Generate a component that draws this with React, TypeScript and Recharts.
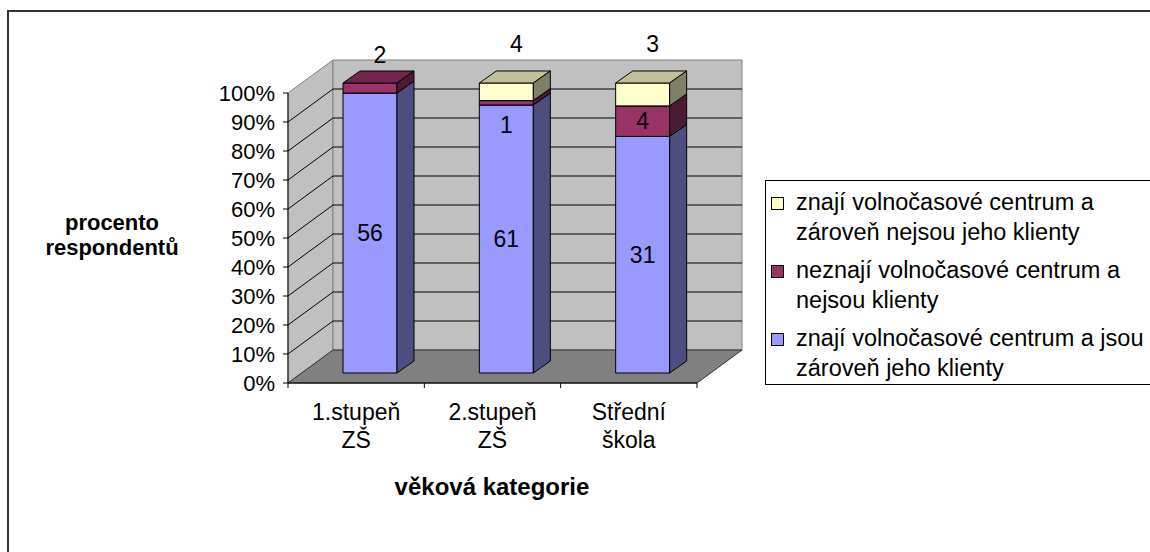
import React from "react";
import {
  BarChart,
  Bar,
  XAxis,
  YAxis,
  LabelList,
  Customized
} from "recharts";

// data
const categories = ["1.stupeň ZŠ", "2.stupeň ZŠ", "Střední škola"];
const klientiValues = [56, 61, 31];
const neznajiValues = [2, 1, 4];
const neklientiValues = [0, 4, 3];
const yTicks = [0, 0.1, 0.2, 0.3, 0.4, 0.5, 0.6, 0.7, 0.8, 0.9, 1];

const seriesNames = {
  klienti: "znají volnočasové centrum a jsou zároveň jeho klienty",
  neznaji: "neznají volnočasové centrum a nejsou klienty",
  neklienti: "znají volnočasové centrum a zároveň nejsou jeho klienty"
};
const legendLines: Record<string, string[]> = {
  neklienti: ["znají volnočasové centrum a", "zároveň nejsou jeho klienty"],
  neznaji: ["neznají volnočasové centrum a", "nejsou klienty"],
  klienti: ["znají volnočasové centrum a jsou", "zároveň jeho klienty"]
};

const data = categories.map((name, i) => ({
  name,
  klienti: klientiValues[i],
  neznaji: neznajiValues[i],
  neklienti: neklientiValues[i]
}));

const FONT = "'Liberation Sans', Arial, sans-serif";

const COLORS = {
  klienti: { front: "#9999FF", top: "#7373BF", side: "#4D4D80" },
  neznaji: { front: "#993366", top: "#73264D", side: "#4D1A33" },
  neklienti: { front: "#FFFFCC", top: "#BFBF99", side: "#808066" }
};

// layout of the front plane of the plot
const W = 1150;
const H = 552;
const PLOT_LEFT = 288;
const PLOT_TOP = 93;
const PLOT_RIGHT = 697;
const PLOT_BOTTOM = 383;
const DX = 45; // wall depth
const DY = 33;
const BAR_OFF_X = 14; // bars sit inside the depth
const BAR_OFF_Y = 10;
const BD_X = 17; // bar depth
const BD_Y = 12;
const BAND = (PLOT_RIGHT - PLOT_LEFT) / categories.length;

// y of a 0..1 share on the front plane (same linear range as the y axis)
const yOf = (t: number) => PLOT_BOTTOM - t * (PLOT_BOTTOM - PLOT_TOP);

// side wall, back wall, floor and the grid lines that run over them
function Walls() {
  const L = PLOT_LEFT, R = PLOT_RIGHT, T = PLOT_TOP, B = PLOT_BOTTOM;
  const inner = yTicks.filter((t) => t > 0 && t < 1);
  return (
    <g className="walls">
      <polygon
        points={`${L},${T} ${L + DX},${T - DY} ${L + DX},${B - DY} ${L},${B}`}
        fill="#C0C0C0"
        stroke="#808080"
      />
      <polygon
        points={`${L + DX},${T - DY} ${R + DX},${T - DY} ${R + DX},${B - DY} ${L + DX},${B - DY}`}
        fill="#C0C0C0"
        stroke="#808080"
      />
      <polygon
        points={`${L},${B} ${L + DX},${B - DY} ${R + DX},${B - DY} ${R},${B}`}
        fill="#808080"
        stroke="#333"
      />
      {inner.map((t) => (
        <line
          key={`d${t}`}
          x1={L}
          y1={yOf(t)}
          x2={L + DX}
          y2={yOf(t) - DY}
          stroke="#000"
          strokeWidth={1}
        />
      ))}
      {inner.map((t) => (
        <line
          key={`h${t}`}
          x1={L + DX}
          y1={yOf(t) - DY}
          x2={R + DX}
          y2={yOf(t) - DY}
          stroke="#000"
          strokeWidth={1}
        />
      ))}
    </g>
  );
}

function Titles() {
  return (
    <g fontFamily={FONT} fontWeight="bold" fill="#000">
      <text x={492} y={486} fontSize={24} textAnchor="middle" dominantBaseline="central">
        věková kategorie
      </text>
      <text x={112} y={222} fontSize={22} textAnchor="middle" dominantBaseline="central">
        procento
      </text>
      <text x={112} y={247} fontSize={22} textAnchor="middle" dominantBaseline="central">
        respondentů
      </text>
    </g>
  );
}

const make3DBar = (c: { front: string; top: string; side: string }) => (props: any) => {
  const { x, y, width, height } = props;
  if (!height || height < 0.5) return <g />;
  const x0 = x + BAR_OFF_X;
  const y0 = y - BAR_OFF_Y;
  const x1 = x0 + width;
  const y1 = y0 + height;
  return (
    <g stroke="#000" strokeWidth={1} strokeLinejoin="round">
      <rect x={x0} y={y0} width={width} height={height} fill={c.front} />
      <polygon
        points={`${x0},${y0} ${x0 + BD_X},${y0 - BD_Y} ${x1 + BD_X},${y0 - BD_Y} ${x1},${y0}`}
        fill={c.top}
      />
      <polygon
        points={`${x1},${y0} ${x1 + BD_X},${y0 - BD_Y} ${x1 + BD_X},${y1 - BD_Y} ${x1},${y1}`}
        fill={c.side}
      />
    </g>
  );
};

// Excel-like label placement: centred, pushed below thin segments, above the top segment
const makeLabel = (key: string) => (props: any) => {
  const { x, y, width, height, value, index } = props;
  if (!value) return <g />;
  let lx = x + BAR_OFF_X + width / 2;
  const top = y - BAR_OFF_Y;
  let ly = top + height / 2;
  const isTop = key === "neklienti" || (key === "neznaji" && !neklientiValues[index]);
  if (isTop) {
    lx += 10;
    ly = top - (key === "neklienti" ? 39 : 28);
  } else if (height < 18) {
    ly = top + height + 20;
  }
  return (
    <text
      x={lx}
      y={ly}
      textAnchor="middle"
      dominantBaseline="central"
      fontFamily={FONT}
      fontSize={23}
      fill="#000"
    >
      {value}
    </text>
  );
};

const XTick = (props: any) => {
  const { x, payload, index } = props;
  const lines = String(payload.value).split(" ");
  return (
    <g>
      <line x1={x - BAND / 2} y1={PLOT_BOTTOM} x2={x - BAND / 2} y2={PLOT_BOTTOM + 5} stroke="#000" />
      {index === categories.length - 1 && (
        <line x1={x + BAND / 2} y1={PLOT_BOTTOM} x2={x + BAND / 2} y2={PLOT_BOTTOM + 5} stroke="#000" />
      )}
      {lines.map((t, i) => (
        <text
          key={i}
          x={x}
          y={412 + i * 28}
          textAnchor="middle"
          dominantBaseline="central"
          fontFamily={FONT}
          fontSize={23}
          fill="#000"
        >
          {t}
        </text>
      ))}
    </g>
  );
};

const legendOrder = ["neklienti", "neznaji", "klienti"] as const;

export default function App() {
  return (
    <div
      style={{
        position: "absolute",
        left: 0,
        top: 0,
        width: W,
        height: H,
        overflow: "hidden",
        background: "#fff",
        fontFamily: FONT
      }}
    >
      <div
        style={{
          position: "absolute",
          left: 7,
          top: 10,
          width: W,
          height: H,
          borderTop: "2px solid #333",
          borderLeft: "2px solid #333"
        }}
      />
      <div style={{ position: "absolute", left: 0, top: 0 }}>
        <BarChart
          width={W}
          height={H}
          data={data}
          stackOffset="expand"
          barSize={54}
          margin={{ top: PLOT_TOP, right: W - PLOT_RIGHT, bottom: H - PLOT_BOTTOM - 60, left: PLOT_LEFT - 60 }}
        >
          <Customized component={<Walls />} />
          <XAxis
            dataKey="name"
            height={60}
            axisLine={{ stroke: "#000" }}
            tickLine={false}
            tick={<XTick />}
            interval={0}
          />
          <YAxis
            width={60}
            type="number"
            domain={[0, 1]}
            ticks={yTicks}
            interval={0}
            tickFormatter={(v) => `${Math.round(v * 100)}%`}
            axisLine={{ stroke: "#000" }}
            tickLine={{ stroke: "#000" }}
            tickSize={5}
            tickMargin={8}
            tick={{ fill: "#000", fontSize: 22, fontFamily: FONT }}
          />
          {(["klienti", "neznaji", "neklienti"] as const).map((k) => (
            <Bar
              key={k}
              dataKey={k}
              name={seriesNames[k]}
              stackId="a"
              fill={COLORS[k].front}
              shape={make3DBar(COLORS[k])}
              isAnimationActive={false}
            >
              <LabelList dataKey={k} content={makeLabel(k)} />
            </Bar>
          ))}
          <Customized component={<Titles />} />
        </BarChart>
      </div>
      <div
        style={{
          position: "absolute",
          left: 765,
          top: 180,
          width: 420,
          height: 205,
          border: "1.5px solid #000",
          boxSizing: "border-box",
          paddingTop: 7,
          fontSize: 23.5,
          lineHeight: "29.5px",
          color: "#000"
        }}
      >
        {legendOrder.map((k) => (
          <div key={k} style={{ position: "relative", paddingLeft: 30, marginBottom: 9 }}>
            <span
              style={{
                position: "absolute",
                left: 5,
                top: 9,
                width: 11,
                height: 11,
                background: COLORS[k].front,
                border: "1px solid #000"
              }}
            />
            {legendLines[k].map((line, i) => (
              <div key={i} style={{ whiteSpace: "nowrap" }}>
                {line}
              </div>
            ))}
          </div>
        ))}
      </div>
    </div>
  );
}
